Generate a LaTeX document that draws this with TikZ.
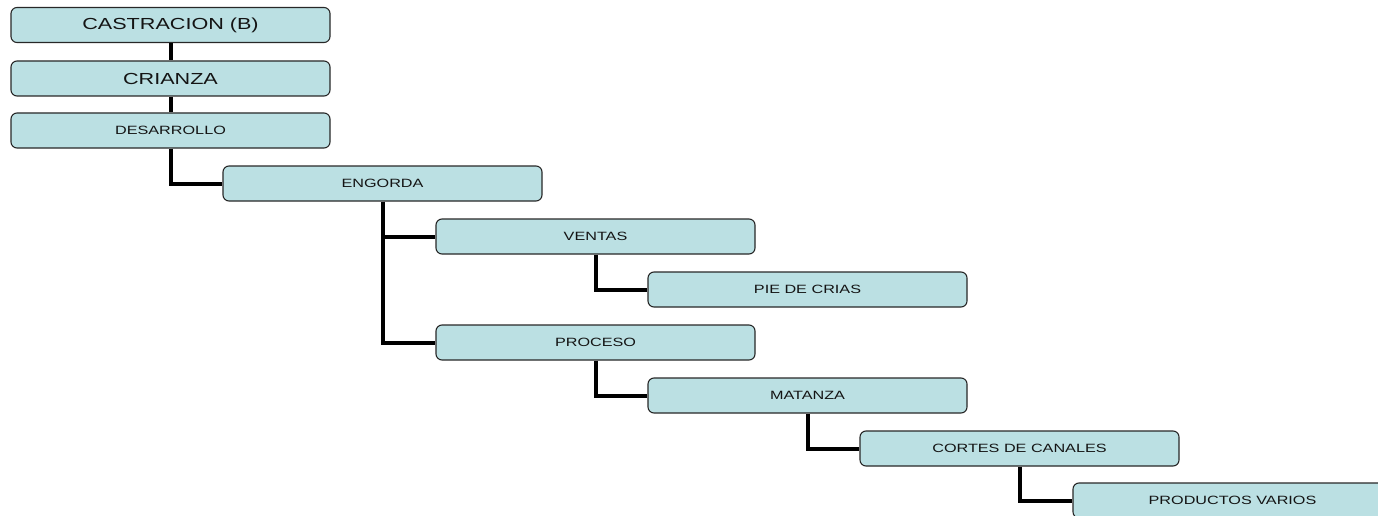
\documentclass[tikz,border=0pt]{standalone}
\usepackage{fontspec}
\newfontfamily\boxfont[FakeStretch=1.35]{Liberation Sans}
\definecolor{boxfill}{RGB}{187,224,227}
\definecolor{boxline}{RGB}{40,40,40}
\definecolor{txt}{RGB}{20,20,20}
\begin{document}
\begin{tikzpicture}[x=1pt,y=-1pt,
  box/.style={draw=boxline, fill=boxfill, rounded corners=6pt, minimum width=319pt,
    minimum height=35pt, inner sep=0pt, line width=1.1pt, text=txt, font=\boxfont\fontsize{12}{14}\selectfont},
  bigbox/.style={box, font=\boxfont\fontsize{16}{18}\selectfont},
  link/.style={line width=4pt, black}]
\useasboundingbox (0,0) rectangle (1378,516);
\clip (0,0) rectangle (1378,516);
\fill[white] (0,0) rectangle (1378,516);
\coordinate (pcas) at (170.5,25);
\coordinate (pcri) at (170.5,78.5);
\coordinate (pdes) at (170.5,130.5);
\coordinate (peng) at (382.5,183.5);
\coordinate (pven) at (595.5,236.5);
\coordinate (ppie) at (807.5,289.5);
\coordinate (ppro) at (595.5,342.5);
\coordinate (pmat) at (807.5,395.5);
\coordinate (pcor) at (1019.5,448.5);
\coordinate (pprod) at (1232.5,500.5);
\node[bigbox] (cas) at (pcas) {CASTRACION (B)};
\node[bigbox] (cri) at (pcri) {CRIANZA};
\node[box] (des) at (pdes) {DESARROLLO};
\node[box] (eng) at (peng) {ENGORDA};
\node[box] (ven) at (pven) {VENTAS};
\node[box] (pie) at (ppie) {PIE DE CRIAS};
\node[box] (pro) at (ppro) {PROCESO};
\node[box] (mat) at (pmat) {MATANZA};
\node[box] (cor) at (pcor) {CORTES DE CANALES};
\node[box] (prod) at (pprod) {PRODUCTOS VARIOS};
\draw[link] (cas.south) -- (cri.north);
\draw[link] (cri.south) -- (des.north);
\draw[link] (des.south) |- (eng.west);
\draw[link] (eng.south) |- (ven.west);
\draw[link] (eng.south) |- (pro.west);
\draw[link] (ven.south) |- (pie.west);
\draw[link] (pro.south) |- (mat.west);
\draw[link] (mat.south) |- (cor.west);
\draw[link] (cor.south) |- (prod.west);
\end{tikzpicture}
\end{document}
